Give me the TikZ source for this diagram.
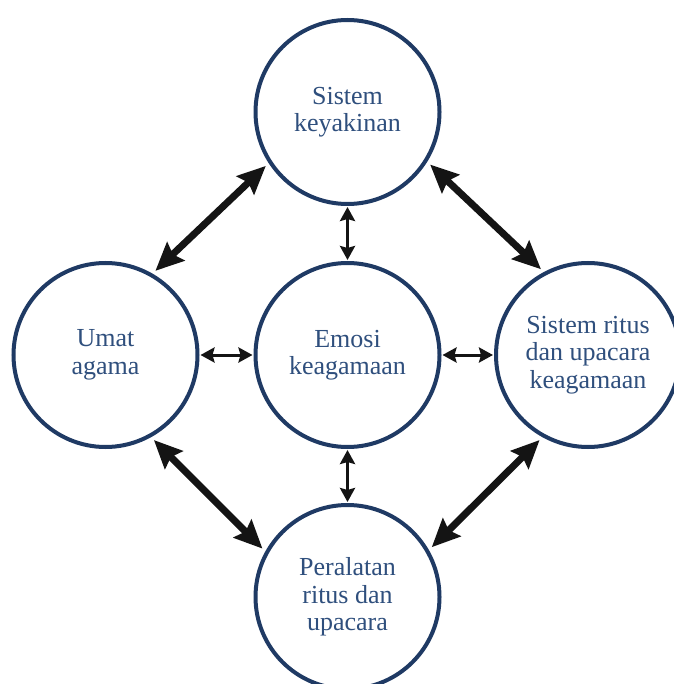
\documentclass[tikz,border=0pt]{standalone}
\usepackage{fontspec}
\setmainfont{Liberation Serif}
\usetikzlibrary{arrows.meta}
\definecolor{ringblue}{RGB}{31,58,100}
\definecolor{textblue}{RGB}{47,79,125}
\definecolor{arrowblack}{RGB}{20,20,20}
\begin{document}
\begin{tikzpicture}[x=1pt,y=-1pt,
  ring/.style={circle,draw=ringblue,line width=4pt,minimum size=184pt,inner sep=0pt,outer sep=2pt,
    text=textblue,align=center,font=\fontsize{26}{27.5}\selectfont},
  bigarrow/.style={arrowblack,line width=7pt,{Stealth[length=28pt,width=25pt,inset=4pt]}-{Stealth[length=28pt,width=25pt,inset=4pt]},shorten <=4pt,shorten >=4pt},
  smallarrow/.style={arrowblack,line width=3pt,{Stealth[length=14pt,width=15pt,inset=2pt]}-{Stealth[length=14pt,width=15pt,inset=2pt]},shorten <=1pt,shorten >=1pt}]
\path[use as bounding box,fill=white] (0,0) rectangle (673,684);
\node[ring] (top) at (347.5,112) {Sistem\\keyakinan};
\node[ring] (left) at (105.5,355) {Umat\\agama};
\node[ring] (mid) at (347.5,355) {Emosi\\keagamaan};
\node[ring] (right) at (588,355) {Sistem ritus\\dan upacara\\keagamaan};
\node[ring] (bot) at (347.5,597) {Peralatan\\ritus dan\\upacara};
\draw[bigarrow] (left.60) -- (top.213);
\draw[bigarrow] (top.328.5) -- (right.118);
\draw[bigarrow] (left.299) -- (bot.151);
\draw[bigarrow] (right.241) -- (bot.30);
\draw[smallarrow] (top.south) -- (mid.north);
\draw[smallarrow] (mid.south) -- (bot.north);
\draw[smallarrow] (left.east) -- (mid.west);
\draw[smallarrow] (mid.east) -- (right.west);
\end{tikzpicture}
\end{document}
